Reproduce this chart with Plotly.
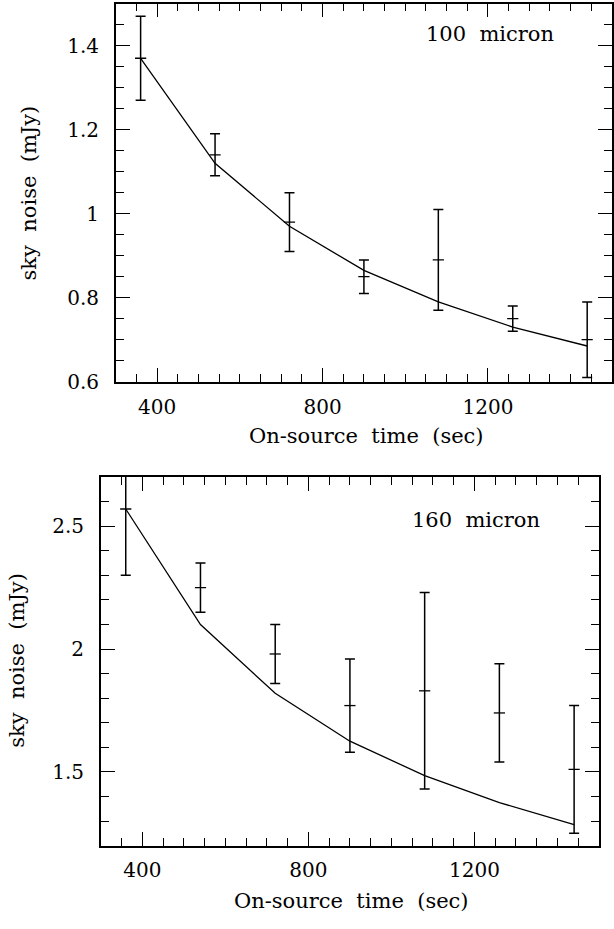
import plotly.graph_objects as go

# ---- data ----
time_s = [360, 540, 720, 900, 1080, 1260, 1440]

noise100 = [1.37, 1.14, 0.98, 0.85, 0.89, 0.75, 0.70]
err100 = [0.10, 0.05, 0.07, 0.04, 0.12, 0.03, 0.09]
model100 = [1.37, 1.12, 0.97, 0.865, 0.79, 0.73, 0.685]

noise160 = [2.57, 2.25, 1.98, 1.77, 1.83, 1.74, 1.51]
err160 = [0.27, 0.10, 0.12, 0.19, 0.40, 0.20, 0.26]
model160 = [2.57, 2.10, 1.82, 1.625, 1.485, 1.375, 1.285]

x_ticks = [400, 800, 1200]
y_ticks_100 = [0.6, 0.8, 1.0, 1.2, 1.4]
y_ticks_160 = [1.5, 2.0, 2.5]

x_title = "On-source\u00a0 time\u00a0 (sec)"
y_title = "sky\u00a0 noise\u00a0 (mJy)"
label100 = "100\u00a0 micron"
label160 = "160\u00a0 micron"

FONT = "DejaVu Serif"
W, H = 614, 929

fig = go.Figure()

def add_panel(xa, ya, noise, err, model):
    fig.add_trace(go.Scatter(
        x=time_s, y=model, mode="lines",
        line=dict(color="black", width=1.3),
        xaxis=xa, yaxis=ya, showlegend=False, hoverinfo="skip"))
    fig.add_trace(go.Scatter(
        x=time_s, y=noise, mode="markers",
        marker=dict(symbol="line-ew", size=8, color="black",
                    line=dict(color="black", width=1.3)),
        error_y=dict(type="data", array=err, visible=True,
                     color="black", thickness=1.5, width=5),
        xaxis=xa, yaxis=ya, showlegend=False))

add_panel("x", "y", noise100, err100, model100)
add_panel("x2", "y2", noise160, err160, model160)

common = dict(
    showline=True, linecolor="black", linewidth=1.6, mirror="allticks",
    ticks="inside", ticklen=14, tickwidth=1.3, tickcolor="black",
    showgrid=False, zeroline=False,
    tickfont=dict(family=FONT, size=20, color="black"),
)

def px_x(p):
    return p / W

def px_y(p):
    return 1 - p / H

def minor(d):
    return dict(dtick=d, ticks="inside", ticklen=8, tickwidth=1.3,
                tickcolor="black", showgrid=False)

fig.update_layout(
    width=W, height=H,
    margin=dict(l=0, r=0, t=0, b=0),
    paper_bgcolor="white", plot_bgcolor="white",
    font=dict(family=FONT, size=20, color="black"),
    xaxis=dict(domain=[px_x(116), px_x(613)], range=[300, 1500],
               tickvals=x_ticks, anchor="y", minor=minor(50),
               ticklabelstandoff=6, **common),
    yaxis=dict(domain=[px_y(386.7), px_y(3.7)], range=[0.6, 1.5],
               tickvals=y_ticks_100, anchor="x", minor=minor(0.05),
               ticklabelstandoff=11, **common),
    xaxis2=dict(domain=[px_x(101), px_x(600)], range=[300, 1500],
                tickvals=x_ticks, anchor="y2", minor=minor(50),
                ticklabelstandoff=6, **common),
    yaxis2=dict(domain=[px_y(856.7), px_y(483.3)], range=[1.2, 2.7],
                tickvals=y_ticks_160, anchor="x2", minor=minor(0.1),
                ticklabelstandoff=11, **common),
)

ann_font = dict(family=FONT, size=21, color="black")
annotations = [
    dict(text=y_title, x=px_x(30), y=px_y(195), textangle=-90),
    dict(text=x_title, x=px_x(366.7), y=px_y(442)),
    dict(text=label100, x=px_x(490.8), y=px_y(34)),
    dict(text=y_title, x=px_x(17.5), y=px_y(669), textangle=-90),
    dict(text=x_title, x=px_x(351.7), y=px_y(912.5)),
    dict(text=label160, x=px_x(476.7), y=px_y(527)),
]
for a in annotations:
    fig.add_annotation(xref="paper", yref="paper", showarrow=False,
                       xanchor="center", yanchor="middle", font=ann_font, **a)

fig.write_html(
    "out.html",
    config={"displayModeBar": False},
    post_script="document.body.style.margin='0px';document.body.style.overflow='hidden';",
)
